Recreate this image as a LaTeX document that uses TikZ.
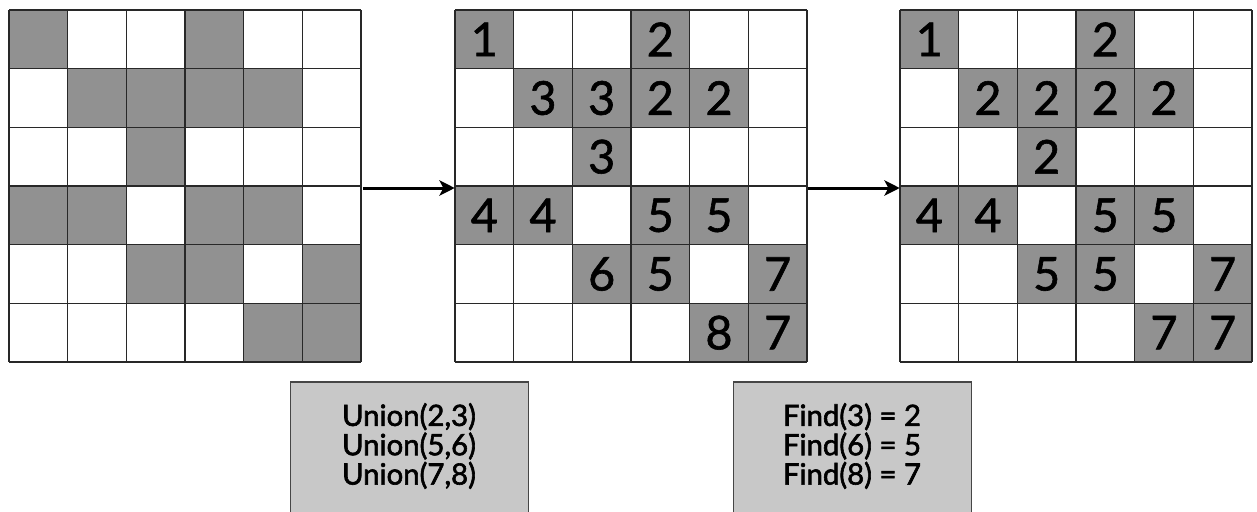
\documentclass[tikz,border=0pt]{standalone}
\usepackage{fontspec}
\setmainfont{Lato}
\newcommand\heavier[1]{\special{pdf:literal direct 2 Tr 0.45 w}#1\special{pdf:literal direct 0 Tr}}
\usetikzlibrary{arrows.meta}
\definecolor{cellgray}{RGB}{145,145,145}
\definecolor{boxgray}{RGB}{200,200,200}
\definecolor{gridline}{RGB}{40,40,40}
\definecolor{boxline}{RGB}{70,70,70}
\tikzset{
  cellbox/.style={minimum size=44pt, inner sep=0pt, fill=cellgray, draw=none,
    font=\fontsize{35}{35}\selectfont, text=black},
  gridframe/.style={minimum size=264pt, inner sep=0pt, draw=none},
  gline/.style={draw=gridline, line width=1.2pt},
  opbox/.style={draw=boxline, line width=0.8pt, fill=boxgray, minimum width=178.5pt,
    minimum height=103.5pt, inner sep=0pt},
  optext/.style={align=center, font=\fontsize{22}{22}\selectfont, inner sep=0pt},
  steparrow/.style={line width=2.25pt, -{Stealth[length=11.5pt,width=11.5pt,inset=3pt]}}
}
\newcommand\mydrawgrid[1]{%
  \foreach \i in {0,...,6}{
    \draw[gline] ({#1+58.667*\i},10) -- ({#1+58.667*\i},362);
    \draw[gline] (#1,{10+58.667*\i}) -- ({#1+352},{10+58.667*\i});
  }}
\begin{document}
\begin{tikzpicture}[x=0.75pt,y=-0.75pt]
\useasboundingbox (0,0) rectangle (1257,511);
\fill[white] (0,0) rectangle (1257,511);

% grid frames
\node[gridframe] (g1) at (185,186) {};
\node[gridframe] (g2) at (631,186) {};
\node[gridframe] (g3) at (1076,186) {};

% grid 1
\foreach \r/\c in {0/0,0/3,1/1,1/2,1/3,1/4,2/2,3/0,3/1,3/3,3/4,4/2,4/3,4/5,5/4,5/5}
  \node[cellbox] (g1-\r-\c) at ({9+29.333+58.667*\c},{10+29.333+58.667*\r}) {};
\mydrawgrid{9}

% grid 2
\foreach \r/\c/\t in {0/0/1,0/3/2,1/1/3,1/2/3,1/3/2,1/4/2,2/2/3,3/0/4,3/1/4,3/3/5,3/4/5,4/2/6,4/3/5,4/5/7,5/4/8,5/5/7}
  \node[cellbox] (g2-\r-\c) at ({455+29.333+58.667*\c},{10+29.333+58.667*\r}) {\raisebox{-2.5pt}{\heavier{\t}}};
\mydrawgrid{455}

% grid 3
\foreach \r/\c/\t in {0/0/1,0/3/2,1/1/2,1/2/2,1/3/2,1/4/2,2/2/2,3/0/4,3/1/4,3/3/5,3/4/5,4/2/5,4/3/5,4/5/7,5/4/7,5/5/7}
  \node[cellbox] (g3-\r-\c) at ({900+29.333+58.667*\c},{10+29.333+58.667*\r}) {\raisebox{-2.5pt}{\heavier{\t}}};
\mydrawgrid{900}

% arrows
\draw[steparrow] ([xshift=1.5pt,yshift=-1.5pt]g1.east) -- ([yshift=-1.5pt]g2.west);
\draw[steparrow] ([xshift=0.5pt,yshift=-1.5pt]g2.east) -- ([yshift=-1.5pt]g3.west);

% operation boxes
\node[opbox] (box1) at (409.75,451) {};
\node[optext] (ops1) at (409,446) {\heavier{Union(2,3)}\\\heavier{Union(5,6)}\\\heavier{Union(7,8)}};
\node[opbox] (box2) at (852.75,451) {};
\node[optext] (ops2) at (852,446) {\heavier{Find(3) = 2}\\\heavier{Find(6) = 5}\\\heavier{Find(8) = 7}};
\end{tikzpicture}
\end{document}
